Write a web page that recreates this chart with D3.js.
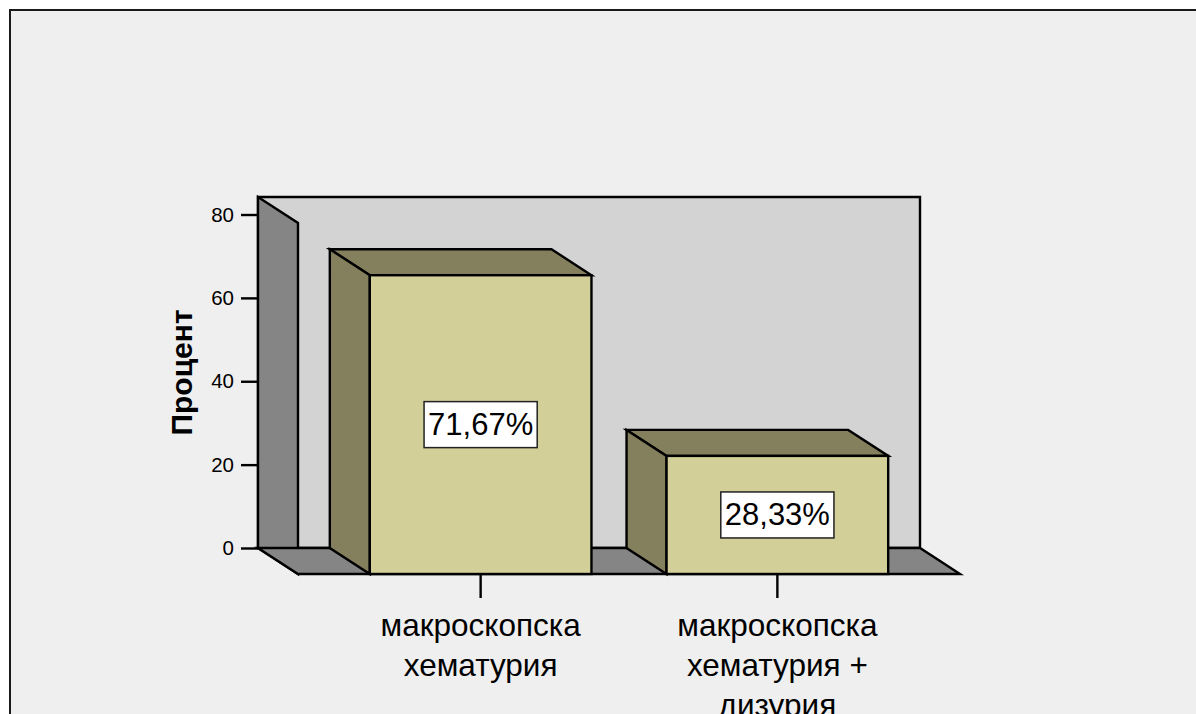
<!DOCTYPE html>
<html>
<head>
<meta charset="utf-8">
<script src="https://cdn.jsdelivr.net/npm/d3@7"></script>
<style>
  html, body { margin: 0; padding: 0; background: #ffffff; }
  svg { display: block; font-family: "Liberation Sans", Arial, sans-serif; }
</style>
</head>
<body>
<svg id="chart" width="1196" height="714"></svg>
<script>
// Chart data
const categories = [
  ["макроскопска", "хематурия"],
  ["макроскопска", "хематурия +", "дизурия"]
];
const values = [71.67, 28.33];
const yTicks = [0, 20, 40, 60, 80];
const yTitle = "Процент";

const W = 1196, H = 714;
const svg = d3.select("#chart");

// Outer frame of the chart area
svg.append("rect")
  .attr("x", 10).attr("y", 10)
  .attr("width", W).attr("height", H)
  .attr("fill", "#efefef")
  .attr("stroke", "#1a1a1a").attr("stroke-width", 2);

// Back plane of the 3D box and the depth offset toward the viewer
const wall = { left: 258, right: 920, top: 197, bottom: 548 };
const depth = { dx: 40, dy: 26 };

const y = d3.scaleLinear().domain([0, 84.2]).range([wall.bottom, wall.top]);
const x = d3.scaleBand()
  .domain(d3.range(categories.length))
  .range([wall.left, wall.right])
  .paddingInner(0.253)
  .paddingOuter(0.242);

const colors = {
  wall: "#d3d3d3",
  side: "#858585",
  barFront: "#d3cf98",
  barShade: "#847f5c",
  stroke: "#000000"
};

const poly = pts => "M" + pts.map(p => p.join(",")).join("L") + "Z";
const g = svg.append("g")
  .attr("stroke", colors.stroke)
  .attr("stroke-width", 2.4)
  .attr("stroke-linejoin", "miter");

// Back wall
g.append("path")
  .attr("d", poly([[wall.left, wall.top], [wall.right, wall.top], [wall.right, wall.bottom], [wall.left, wall.bottom]]))
  .attr("fill", colors.wall);

// Left side wall
g.append("path")
  .attr("d", poly([
    [wall.left, wall.top], [wall.left + depth.dx, wall.top + depth.dy],
    [wall.left + depth.dx, wall.bottom + depth.dy], [wall.left, wall.bottom]
  ]))
  .attr("fill", colors.side);

// Floor
g.append("path")
  .attr("d", poly([
    [wall.left, wall.bottom], [wall.right, wall.bottom],
    [wall.right + depth.dx, wall.bottom + depth.dy], [wall.left + depth.dx, wall.bottom + depth.dy]
  ]))
  .attr("fill", colors.side);

// Bars: top face, left face, front face
const bars = g.selectAll("g.bar")
  .data(values.map((v, i) => ({ v, i })))
  .join("g").attr("class", "bar");

bars.append("path")
  .attr("fill", colors.barShade)
  .attr("d", d => {
    const x0 = x(d.i), x1 = x0 + x.bandwidth(), yt = y(d.v);
    return poly([[x0, yt], [x1, yt], [x1 + depth.dx, yt + depth.dy], [x0 + depth.dx, yt + depth.dy]]);
  });

bars.append("path")
  .attr("fill", colors.barShade)
  .attr("d", d => {
    const x0 = x(d.i), yt = y(d.v), yb = y(0);
    return poly([[x0, yt], [x0 + depth.dx, yt + depth.dy], [x0 + depth.dx, yb + depth.dy], [x0, yb]]);
  });

bars.append("rect")
  .attr("fill", colors.barFront)
  .attr("x", d => x(d.i) + depth.dx)
  .attr("y", d => y(d.v) + depth.dy)
  .attr("width", x.bandwidth())
  .attr("height", d => y(0) - y(d.v));

// Y axis
const yAxis = d3.axisLeft(y).tickValues(yTicks).tickSize(17).tickPadding(7);
const ya = svg.append("g")
  .attr("transform", `translate(${wall.left},0)`)
  .call(yAxis);
ya.select(".domain").remove();
ya.selectAll(".tick line").attr("stroke", "#000").attr("stroke-width", 2.4);
ya.selectAll(".tick text")
  .attr("fill", "#000")
  .style("font-size", "20.5px")
  .style("font-family", '"Liberation Sans", Arial, sans-serif');

// Y title
svg.append("text")
  .attr("transform", `translate(192,372.5) rotate(-90)`)
  .attr("text-anchor", "middle")
  .style("font-size", "30px")
  .style("font-weight", "bold")
  .attr("fill", "#000")
  .text(yTitle);

// X axis on the front edge of the floor
const xFront = d3.scaleBand()
  .domain(d3.range(categories.length))
  .range([wall.left + depth.dx, wall.right + depth.dx])
  .paddingInner(0.253)
  .paddingOuter(0.242);
const xAxis = d3.axisBottom(xFront).tickSize(24).tickSizeOuter(0).tickFormat("");
const xa = svg.append("g")
  .attr("transform", `translate(0,${wall.bottom + depth.dy})`)
  .call(xAxis);
xa.select(".domain").remove();
xa.selectAll(".tick line").attr("stroke", "#000").attr("stroke-width", 2.4);
xa.selectAll(".tick").each(function(i) {
  const t = d3.select(this).append("text")
    .attr("fill", "#000")
    .attr("text-anchor", "middle")
    .style("font-size", "31.5px")
    .style("font-family", '"Liberation Sans", Arial, sans-serif');
  categories[i].forEach((line, k) => {
    t.append("tspan").attr("x", 0).attr("y", 62 + k * 40).text(line);
  });
});

// Value labels in white boxes
const fmt = v => d3.format(".2f")(v).replace(".", ",") + "%";
bars.each(function(d) {
  const cx = x(d.i) + x.bandwidth() / 2 + depth.dx;
  const cy = (y(d.v) + y(0)) / 2 + depth.dy;
  const lg = d3.select(this).append("g");
  const box = lg.append("rect")
    .attr("fill", "#ffffff").attr("stroke", "#222").attr("stroke-width", 1.5);
  const txt = lg.append("text")
    .attr("x", cx).attr("y", cy)
    .attr("text-anchor", "middle")
    .attr("dominant-baseline", "central")
    .attr("stroke", "none")
    .attr("fill", "#000")
    .style("font-size", "31px")
    .text(fmt(d.v));
  const bb = txt.node().getBBox();
  const w = bb.width + 8, h = 46;
  box.attr("x", cx - w / 2).attr("y", cy - h / 2).attr("width", w).attr("height", h);
});
</script>
</body>
</html>
